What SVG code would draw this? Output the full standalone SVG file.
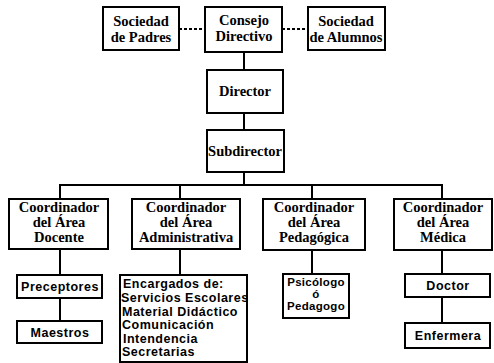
<svg xmlns="http://www.w3.org/2000/svg" width="494" height="363" viewBox="0 0 494 363">
<style>
rect{fill:#fff;stroke:#000;stroke-width:2}
.s{font-family:"Liberation Serif","Times New Roman",serif;font-weight:bold;font-size:14.5px;text-anchor:middle;fill:#000}
.a{font-family:"Liberation Sans",Arial,sans-serif;font-weight:bold;font-size:12.5px;letter-spacing:0.5px;text-anchor:middle;fill:#000}
.p{font-size:11.5px;letter-spacing:0.3px}
.l{text-anchor:start}
#connectors line{stroke:#000;stroke-width:2}
#connectors .d{stroke-dasharray:3 2}
</style>
<rect width="494" height="363" style="fill:#fff;stroke:none"/>
<g id="connectors">
<line class="d" x1="179" y1="29" x2="205" y2="29"/>
<line class="d" x1="282" y1="29" x2="308" y2="29"/>
<line x1="244" y1="52" x2="244" y2="70"/>
<line x1="244" y1="113" x2="244" y2="130"/>
<line x1="244" y1="172" x2="244" y2="185"/>
<line x1="59" y1="185" x2="443" y2="185"/>
<line x1="60" y1="185" x2="60" y2="199"/>
<line x1="180" y1="185" x2="180" y2="199"/>
<line x1="312" y1="185" x2="312" y2="199"/>
<line x1="442" y1="185" x2="442" y2="199"/>
<line x1="60" y1="249" x2="60" y2="275"/>
<line x1="60" y1="298" x2="60" y2="321"/>
<line x1="180" y1="249" x2="180" y2="275"/>
<line x1="312" y1="250" x2="312" y2="274"/>
<line x1="442" y1="250" x2="442" y2="274"/>
<line x1="442" y1="297" x2="442" y2="323"/>
</g>
<g id="sociedad-padres"><rect x="103" y="7" width="76" height="43"/><text class="s" x="141" y="26">Sociedad</text><text class="s" x="141" y="42">de Padres</text></g>
<g id="consejo"><rect x="205" y="7" width="77" height="45"/><text class="s" x="244" y="25">Consejo</text><text class="s" x="244" y="41">Directivo</text></g>
<g id="sociedad-alumnos"><rect x="308" y="7" width="77" height="43"/><text class="s" x="346" y="26">Sociedad</text><text class="s" x="346" y="42">de Alumnos</text></g>
<g id="director"><rect x="207" y="70" width="76" height="43"/><text class="s" x="245" y="96">Director</text></g>
<g id="subdirector"><rect x="207" y="130" width="77" height="42"/><text class="s" x="245" y="156">Subdirector</text></g>
<g id="coord-docente"><rect x="9" y="199" width="99" height="50"/><text class="s" x="59" y="212">Coordinador</text><text class="s" x="59" y="227">del Área</text><text class="s" x="59" y="242">Docente</text></g>
<g id="coord-administrativa"><rect x="132" y="199" width="108" height="50"/><text class="s" x="186" y="212">Coordinador</text><text class="s" x="186" y="227">del Área</text><text class="s" x="186" y="242">Administrativa</text></g>
<g id="coord-pedagogica"><rect x="263" y="199" width="102" height="51"/><text class="s" x="314" y="212">Coordinador</text><text class="s" x="314" y="227">del Área</text><text class="s" x="314" y="242">Pedagógica</text></g>
<g id="coord-medica"><rect x="394" y="199" width="98" height="51"/><text class="s" x="443" y="212">Coordinador</text><text class="s" x="443" y="227">del Área</text><text class="s" x="443" y="242">Médica</text></g>
<g id="preceptores"><rect x="17" y="275" width="85" height="23"/><text class="a" x="60" y="291">Preceptores</text></g>
<g id="maestros"><rect x="17" y="321" width="85" height="22"/><text class="a" x="60" y="337">Maestros</text></g>
<g id="encargados"><rect x="120" y="275" width="127" height="87"/>
<text class="a l" x="123" y="288">Encargados de:</text>
<text class="a l" x="121" y="302">Servicios Escolares</text>
<text class="a l" x="122" y="316">Material Didáctico</text>
<text class="a l" x="122" y="329">Comunicación</text>
<text class="a l" x="123" y="343">Intendencia</text>
<text class="a l" x="122" y="356">Secretarias</text></g>
<g id="psicologo"><rect x="283" y="274" width="66" height="44"/><text class="a p" x="316" y="286">Psicólogo</text><text class="a p" x="316" y="298">ó</text><text class="a p" x="316" y="310">Pedagogo</text></g>
<g id="doctor"><rect x="405" y="274" width="85" height="23"/><text class="a" x="448" y="290">Doctor</text></g>
<g id="enfermera"><rect x="405" y="323" width="85" height="25"/><text class="a" x="448" y="340">Enfermera</text></g>
</svg>
